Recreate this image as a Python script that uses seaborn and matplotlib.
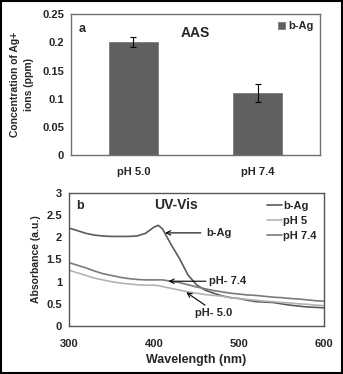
import matplotlib
matplotlib.use("Agg")
import matplotlib.pyplot as plt
import seaborn as sns
import pandas as pd
from matplotlib.patches import Rectangle

# ---- data ----
categories = ["pH 5.0", "pH 7.4"]
ag_conc = [0.200, 0.110]
ag_err = [0.009, 0.016]

wavelength = [300, 310, 320, 330, 340, 350, 360, 370, 380, 390, 395, 400, 405, 410,
              420, 430, 440, 450, 460, 470, 480, 490, 500, 510, 520, 530, 540, 550,
              560, 570, 580, 590, 600]
abs_bag = [2.21, 2.15, 2.09, 2.05, 2.03, 2.02, 2.02, 2.02, 2.03, 2.09, 2.16, 2.23, 2.27, 2.19,
           1.84, 1.52, 1.15, 0.93, 0.81, 0.74, 0.68, 0.64, 0.62, 0.58, 0.55, 0.54, 0.53, 0.50,
           0.47, 0.45, 0.43, 0.42, 0.41]
abs_ph5 = [1.26, 1.20, 1.14, 1.08, 1.04, 1.00, 0.97, 0.95, 0.93, 0.92, 0.92, 0.92, 0.91, 0.89,
           0.85, 0.81, 0.77, 0.74, 0.71, 0.69, 0.67, 0.64, 0.62, 0.60, 0.58, 0.56, 0.55, 0.53,
           0.52, 0.50, 0.49, 0.47, 0.46]
abs_ph74 = [1.43, 1.37, 1.31, 1.24, 1.18, 1.14, 1.10, 1.07, 1.05, 1.04, 1.04, 1.04, 1.04, 1.04,
            1.01, 0.98, 0.93, 0.88, 0.84, 0.80, 0.77, 0.74, 0.72, 0.70, 0.69, 0.67, 0.65, 0.64,
            0.62, 0.61, 0.59, 0.57, 0.56]
series_names = ["b-Ag", "pH 5", "pH 7.4"]
series_colors = ["#5a5a5a", "#b3b3b3", "#7a7a7a"]

sns.set_style("white")
plt.rcParams["font.family"] = ["Liberation Sans", "DejaVu Sans"]
plt.rcParams["font.weight"] = "bold"

fig = plt.figure(figsize=(3.43, 3.74), dpi=100)
axc = "#707070"

# ---- panel a ----
ax1 = fig.add_axes([0.207, 0.5856, 0.726, 0.3762])
bar_df = pd.DataFrame({"cat": categories, "val": ag_conc})
sns.barplot(data=bar_df, x="cat", y="val", color="#606060", width=0.39,
            errorbar=None, ax=ax1, saturation=1, edgecolor="#7a7a7a", linewidth=0.6,
            label="b-Ag")
ax1.errorbar(range(len(categories)), ag_conc, yerr=ag_err, fmt="none",
             ecolor="black", elinewidth=0.8, capsize=2, capthick=0.8)
ax1.set_xlim(-0.5, 1.5)
ax1.set_ylim(0, 0.25)
ax1.set_yticks([0, 0.05, 0.1, 0.15, 0.2, 0.25])
ax1.set_yticklabels(["0", "0.05", "0.1", "0.15", "0.2", "0.25"])
ax1.set_xticks([-0.5, 0.5, 1.5], minor=True)
ax1.tick_params(axis="x", which="major", length=0, pad=9, labelsize=8)
ax1.tick_params(axis="x", which="minor", length=3, color=axc, direction="out")
ax1.tick_params(axis="y", length=3, color=axc, direction="out", labelsize=8, pad=2)
ax1.set_xlabel("")
ax1.set_ylabel("Concentration of Ag+\nions (ppm)", fontsize=7.5, fontweight="bold",
               labelpad=6, linespacing=1.5)
for s in ax1.spines.values():
    s.set_color(axc)
    s.set_linewidth(1.0)
ax1.text(0.03, 0.94, "a", transform=ax1.transAxes, fontsize=9, fontweight="bold",
         va="top", ha="left")
ax1.text(0.5, 0.87, "AAS", transform=ax1.transAxes, fontsize=10, fontweight="bold",
         ha="center", va="center")
leg1 = ax1.legend(loc="upper right", frameon=False, fontsize=8, handlelength=0.6,
                  handleheight=0.6, handletextpad=0.3, borderaxespad=0.2)

# ---- panel b ----
ax2 = fig.add_axes([0.201, 0.1283, 0.744, 0.3557])
line_df = pd.DataFrame({
    "Wavelength": wavelength * 3,
    "Absorbance": abs_bag + abs_ph5 + abs_ph74,
    "Series": [series_names[0]] * len(wavelength) + [series_names[1]] * len(wavelength)
              + [series_names[2]] * len(wavelength),
})
sns.lineplot(data=line_df, x="Wavelength", y="Absorbance", hue="Series",
             palette=dict(zip(series_names, series_colors)), hue_order=series_names,
             linewidth=1.2, ax=ax2)
ax2.set_xlim(300, 600)
ax2.set_ylim(0, 3)
ax2.set_xticks([300, 400, 500, 600])
ax2.set_yticks([0, 0.5, 1, 1.5, 2, 2.5, 3])
ax2.set_yticklabels(["0", "0.5", "1", "1.5", "2", "2.5", "3"])
ax2.tick_params(axis="both", length=3, color=axc, direction="out", labelsize=8)
ax2.tick_params(axis="x", pad=6)
ax2.tick_params(axis="y", pad=2)
ax2.set_xlabel("Wavelength (nm)", fontsize=9, fontweight="bold", labelpad=4)
ax2.set_ylabel("Absorbance (a.u.)", fontsize=7.5, fontweight="bold", labelpad=4)
for s in ax2.spines.values():
    s.set_color("#555555")
    s.set_linewidth(1.0)
ax2.text(0.03, 0.95, "b", transform=ax2.transAxes, fontsize=9, fontweight="bold",
         va="top", ha="left")
ax2.text(426, 2.72, "UV-Vis", fontsize=10, fontweight="bold", ha="center", va="center")
ax2.legend(loc="upper right", frameon=False, fontsize=8, handlelength=1.3,
           handletextpad=0.1, labelspacing=0.45, borderaxespad=0.3, title=None)

arrow_kw = dict(arrowstyle="->", color="black", lw=0.8, shrinkA=0, shrinkB=0,
                mutation_scale=8)
ax2.annotate("", xy=(413, 2.1), xytext=(455, 2.1), arrowprops=arrow_kw)
ax2.text(461, 2.1, "b-Ag", fontsize=8, fontweight="bold", ha="left", va="center")
ax2.annotate("", xy=(417, 1.01), xytext=(461, 1.01), arrowprops=arrow_kw)
ax2.text(465, 1.01, "pH- 7.4", fontsize=8, fontweight="bold", ha="left", va="center")
ax2.annotate("", xy=(438, 0.76), xytext=(460, 0.47), arrowprops=arrow_kw)
ax2.text(470, 0.29, "pH- 5.0", fontsize=8, fontweight="bold", ha="center", va="center")

# outer frame
fig.add_artist(Rectangle((0.003, 0.003), 0.994, 0.994, transform=fig.transFigure,
                         fill=False, edgecolor="black", linewidth=1.5))

fig.savefig("out.png", dpi=100)
